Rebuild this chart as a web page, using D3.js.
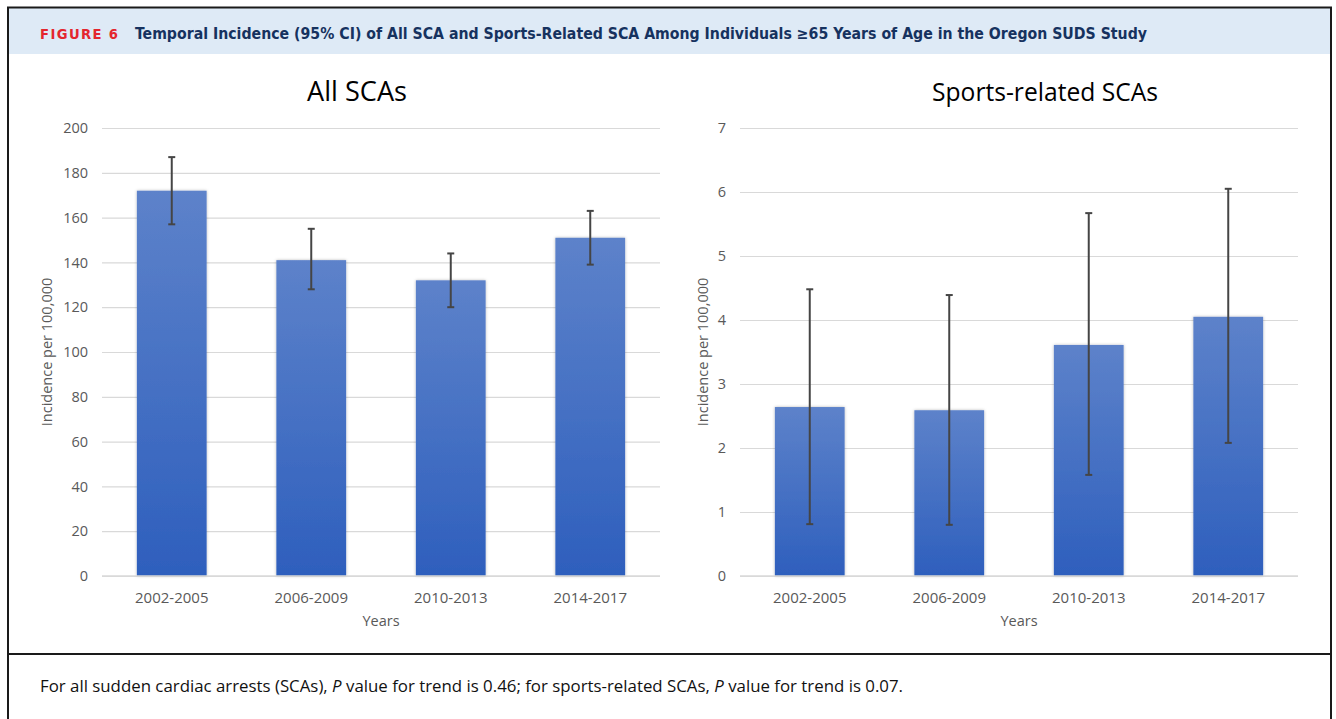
<!DOCTYPE html>
<html>
<head>
<meta charset="utf-8">
<script src="https://cdn.jsdelivr.net/npm/d3@7/dist/d3.min.js"></script>
<style>
  html, body { margin: 0; padding: 0; background: #fff; }
  svg { display: block; }
</style>
</head>
<body>
<script>
// Periods on the x axis
const periods = ["2002-2005", "2006-2009", "2010-2013", "2014-2017"];

// All SCAs: incidence per 100,000 with 95% CI
const allValues = [172, 141, 132, 151];
const allLower  = [157, 128, 120, 139];
const allUpper  = [187, 155, 144, 163];
const allTicks  = [0, 20, 40, 60, 80, 100, 120, 140, 160, 180, 200];

// Sports-related SCAs: incidence per 100,000 with 95% CI
const sportValues = [2.64, 2.59, 3.61, 4.05];
const sportLower  = [0.81, 0.80, 1.58, 2.08];
const sportUpper  = [4.48, 4.39, 5.67, 6.05];
const sportTicks  = [0, 1, 2, 3, 4, 5, 6, 7];

const W = 1336, H = 719;
const svg = d3.select("body").append("svg").attr("width", W).attr("height", H);

const defs = svg.append("defs");
const grad = defs.append("linearGradient").attr("id", "barFill")
  .attr("x1", 0).attr("y1", 0).attr("x2", 0).attr("y2", 1);
grad.append("stop").attr("offset", "0%").attr("stop-color", "#5d82ca");
grad.append("stop").attr("offset", "100%").attr("stop-color", "#2e5fbd");
const shadow = defs.append("filter").attr("id", "barShadow")
  .attr("x", "-20%").attr("y", "-5%").attr("width", "140%").attr("height", "110%");
shadow.append("feDropShadow").attr("dx", 0).attr("dy", 0).attr("stdDeviation", 1.6)
  .attr("flood-color", "#000").attr("flood-opacity", 0.28);

// Scale a text element's font so it spans the given width
function fitWidth(sel, target, base) {
  const w = sel.node().getComputedTextLength();
  sel.attr("font-size", base * target / w);
}

// Figure frame and header band
svg.append("rect").attr("x", 8).attr("y", 8).attr("width", 1323).attr("height", 46)
  .attr("fill", "#deeaf6");
svg.append("line").attr("x1", 7).attr("x2", 1332).attr("y1", 7.5).attr("y2", 7.5)
  .attr("stroke", "#1a1a1a").attr("stroke-width", 2);
svg.append("line").attr("x1", 8).attr("x2", 8).attr("y1", 7).attr("y2", H)
  .attr("stroke", "#1a1a1a").attr("stroke-width", 2);
svg.append("line").attr("x1", 1331).attr("x2", 1331).attr("y1", 7).attr("y2", H)
  .attr("stroke", "#1a1a1a").attr("stroke-width", 2);
svg.append("line").attr("x1", 8).attr("x2", 1331).attr("y1", 654).attr("y2", 654)
  .attr("stroke", "#1a1a1a").attr("stroke-width", 2);

const headFont = "'DejaVu Sans Condensed', 'DejaVu Sans', sans-serif";
const figLabel = svg.append("text").attr("x", 40).attr("y", 39)
  .attr("font-family", headFont).attr("font-weight", "bold")
  .attr("fill", "#e4262e").attr("font-size", 14).attr("letter-spacing", 1.4)
  .text("FIGURE 6");
fitWidth(figLabel, 80, 14);
const headTitle = svg.append("text").attr("x", 135).attr("y", 39)
  .attr("font-family", headFont).attr("font-weight", "bold")
  .attr("fill", "#16325f").attr("font-size", 14)
  .text("Temporal Incidence (95% CI) of All SCA and Sports-Related SCA Among Individuals \u226565 Years of Age in the Oregon SUDS Study");
fitWidth(headTitle, 1013, 14);

// Caption under the figure
const cap = svg.append("text").attr("x", 40).attr("y", 692)
  .attr("font-family", "'Open Sans', 'DejaVu Sans', sans-serif")
  .attr("font-size", 14).attr("fill", "#111");
cap.append("tspan").text("For all sudden cardiac arrests (SCAs), ");
cap.append("tspan").attr("font-style", "italic").text("P");
cap.append("tspan").text(" value for trend is 0.46; for sports-related SCAs, ");
cap.append("tspan").attr("font-style", "italic").text("P");
cap.append("tspan").text(" value for trend is 0.07.");
fitWidth(cap, 864, 14);

const chartFont = "'Open Sans', 'Liberation Sans', sans-serif";

function drawPanel(cfg) {
  const g = svg.append("g");
  const x = d3.scaleBand().domain(periods).range([cfg.left, cfg.right]).paddingInner(0.5).paddingOuter(0.25);
  const y = d3.scaleLinear().domain([0, d3.max(cfg.ticks)]).range([576, 128]);

  // Title
  const t = g.append("text").attr("x", cfg.titleX).attr("y", 101).attr("text-anchor", "middle")
    .attr("font-family", chartFont).attr("font-size", 24).attr("fill", "#000")
    .text(cfg.title);
  fitWidth(t, cfg.titleW, 24);

  // Gridlines and y tick labels
  const yAxis = d3.axisLeft(y).tickValues(cfg.ticks).tickSize(-(cfg.right - cfg.left))
    .tickPadding(14).tickFormat(d3.format("d"));
  const ya = g.append("g").attr("transform", `translate(${cfg.left},0)`).call(yAxis);
  ya.select(".domain").remove();
  ya.selectAll(".tick line").attr("stroke", "#d9d9d9").attr("stroke-width", 1.2);
  ya.selectAll(".tick text").attr("font-family", chartFont).attr("font-size", 14.5)
    .attr("fill", "#595959");

  // Bars
  g.selectAll("rect.bar").data(cfg.values).join("rect").attr("class", "bar")
    .attr("x", (d, i) => x(periods[i])).attr("width", x.bandwidth())
    .attr("y", d => y(d)).attr("height", d => y(0) - y(d))
    .attr("fill", "url(#barFill)").attr("filter", "url(#barShadow)");

  // Baseline and x tick labels
  const xAxis = d3.axisBottom(x).tickSize(0).tickPadding(16);
  const xa = g.append("g").attr("transform", `translate(0,${y(0)})`).call(xAxis);
  xa.select(".domain").attr("stroke", "#d9d9d9").attr("stroke-width", 1.5)
    .attr("d", `M${cfg.left},0H${cfg.right}`);
  xa.selectAll(".tick text").attr("font-family", chartFont).attr("font-size", 15)
    .attr("fill", "#595959");

  // Error bars (95% CI)
  const eb = g.selectAll("g.err").data(cfg.values).join("g").attr("class", "err");
  eb.append("line")
    .attr("x1", (d, i) => x(periods[i]) + x.bandwidth() / 2)
    .attr("x2", (d, i) => x(periods[i]) + x.bandwidth() / 2)
    .attr("y1", (d, i) => y(cfg.lower[i])).attr("y2", (d, i) => y(cfg.upper[i]))
    .attr("stroke", "#454545").attr("stroke-width", 2);
  ["lower", "upper"].forEach(k => {
    eb.append("line")
      .attr("x1", (d, i) => x(periods[i]) + x.bandwidth() / 2 - 3.5)
      .attr("x2", (d, i) => x(periods[i]) + x.bandwidth() / 2 + 3.5)
      .attr("y1", (d, i) => y(cfg[k][i])).attr("y2", (d, i) => y(cfg[k][i]))
      .attr("stroke", "#454545").attr("stroke-width", 2);
  });

  // Axis titles
  g.append("text").attr("x", (cfg.left + cfg.right) / 2).attr("y", 626)
    .attr("text-anchor", "middle").attr("font-family", chartFont).attr("font-size", 14.5)
    .attr("fill", "#595959").text("Years");
  g.append("text")
    .attr("transform", `translate(${cfg.yLabelX},352) rotate(-90)`)
    .attr("text-anchor", "middle").attr("font-family", chartFont).attr("font-size", 14.5)
    .attr("fill", "#595959").text("Incidence per 100,000");
}

drawPanel({
  title: "All SCAs", titleX: 357, titleW: 100, left: 102, right: 660, yLabelX: 52,
  values: allValues, lower: allLower, upper: allUpper, ticks: allTicks
});
drawPanel({
  title: "Sports-related SCAs", titleX: 1045, titleW: 226, left: 740, right: 1298, yLabelX: 708,
  values: sportValues, lower: sportLower, upper: sportUpper, ticks: sportTicks
});
</script>
</body>
</html>
